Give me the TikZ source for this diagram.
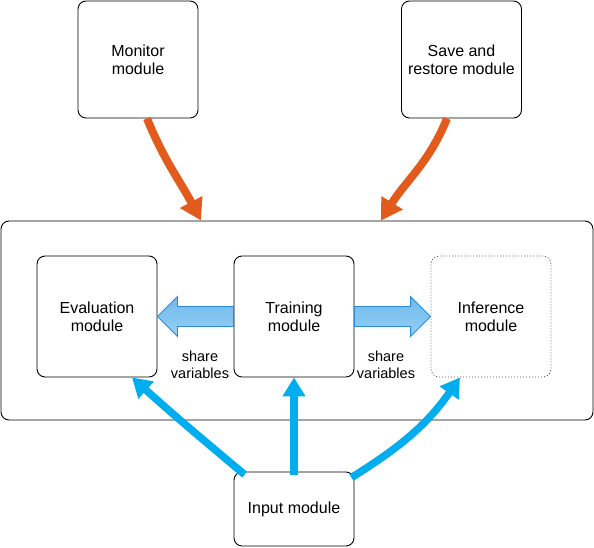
\documentclass[tikz,border=0pt]{standalone}
\usepackage{fontspec}
\setmainfont{Liberation Sans}
\usetikzlibrary{arrows.meta,calc}
\definecolor{feedorange}{HTML}{E25A1C}
\definecolor{feedblue}{HTML}{00ADEE}
\definecolor{sharetop}{HTML}{6FB9EC}
\definecolor{sharebot}{HTML}{95D0F6}
\definecolor{shareedge}{HTML}{2B8BD3}
\begin{document}
\begin{tikzpicture}[x=1pt, y=1pt,
  module/.style={draw, rounded corners=8pt, line width=0.9pt, align=center,
    minimum width=120pt, minimum height=121pt, inner sep=0pt,
    font=\fontsize{16}{18}\selectfont},
  note/.style={align=center, inner sep=0pt, font=\fontsize{14.5}{17}\selectfont},
  control/.style={line width=8pt, draw=feedorange,
    -{Triangle[length=21pt, width=24pt]}},
  feed/.style={line width=7.5pt, draw=feedblue,
    -{Triangle[length=19pt, width=22pt]}},
  sharearrow/.style={draw=shareedge, line width=0.9pt, line join=miter,
    top color=sharetop, bottom color=sharebot}]
  \useasboundingbox (0,0) rectangle (594,547);
  % outer frame
  \node[draw, rounded corners=8pt, line width=0.9pt, minimum width=592pt,
    minimum height=199pt, inner sep=0pt] (container) at (297,226.5) {};
  \node[module, minimum height=117pt] (monitor) at (138,487.5) {Monitor\\module};
  \node[module, minimum height=117pt] (saverestore) at (461.5,487.5) {Save and\\restore module};
  \node[module] (evaluation) at (97,230.5) {Evaluation\\module};
  \node[module] (training) at (294,230.5) {Training\\module};
  \node[module, draw=black!65, dash pattern=on 1pt off 2pt] (inference) at (491,230.5) {Inference\\module};
  \node[module, minimum height=74pt, fill=white] (input) at (294,38) {Input module};
  % shared variables
  \draw[sharearrow] ($(training.west)+(0,10)$) -- ($(evaluation.east)+(20,10)$)
    -- ++(0,10) -- (evaluation.east) -- ++(20,-20) -- ++(0,10)
    -- ($(training.west)+(0,-10)$) -- cycle;
  \draw[sharearrow] ($(training.east)+(0,10)$) -- ($(inference.west)+(-20,10)$)
    -- ++(0,10) -- (inference.west) -- ++(-20,-20) -- ++(0,10)
    -- ($(training.east)+(0,-10)$) -- cycle;
  \node[note] (sharel) at (200,182) {share\\variables};
  \node[note] (sharer) at (386,182) {share\\variables};
  % control from above
  \draw[control] ($(monitor.south)+(9,0)$) to[out=-68, in=118] ($(container.north)+(-96,0)$);
  \draw[control] ($(saverestore.south)+(-14.5,0)$) to[out=-112, in=58] ($(container.north)+(84,0)$);
  % data from input
  \draw[feed] ($(input.north west)+(11,-3)$) to[out=140, in=-42] ($(evaluation.south)+(35,0)$);
  \draw[feed] ($(input.north)+(0,-3)$) -- (training.south);
  \draw[feed] ($(input.north east)+(-3,-6)$) to[out=32, in=-125] ($(inference.south)+(-31,0)$);
\end{tikzpicture}
\end{document}
